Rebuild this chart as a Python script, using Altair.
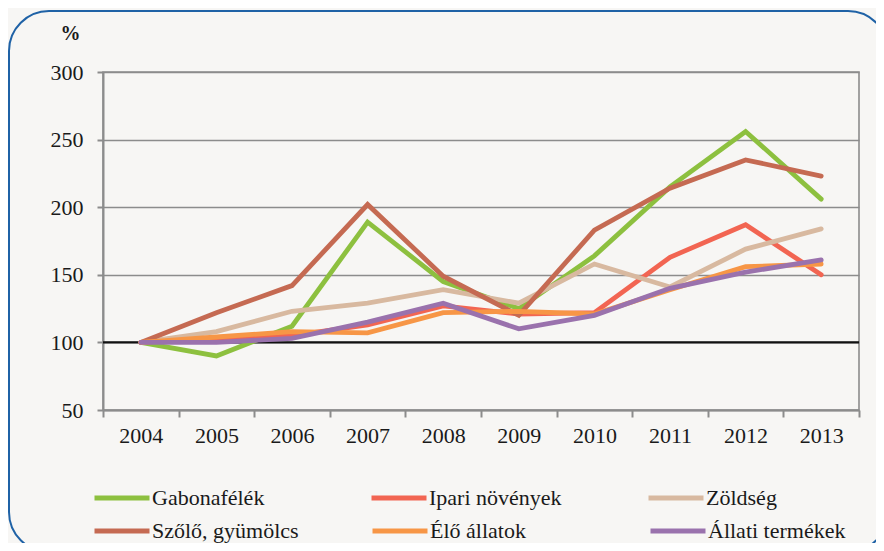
import altair as alt
import pandas as pd

years = ["2004", "2005", "2006", "2007", "2008", "2009", "2010", "2011", "2012", "2013"]
series = ["Gabonafélék", "Ipari növények", "Zöldség", "Szőlő, gyümölcs", "Élő állatok", "Állati termékek"]
gabona = [100, 90, 112, 189, 145, 125, 164, 215, 256, 206]
ipari = [100, 103, 105, 113, 127, 121, 122, 163, 187, 150]
zoldseg = [100, 108, 123, 129, 139, 129, 158, 141, 169, 184]
szolo = [100, 122, 142, 202, 149, 120, 183, 214, 235, 223]
elo = [100, 104, 108, 107, 122, 123, 121, 139, 156, 158]
allati = [100, 100, 103, 115, 129, 110, 120, 140, 152, 161]
colors = ["#8DC03F", "#F26552", "#D8B9A0", "#C56A52", "#F79646", "#9A72AD"]
y_ticks = [50, 100, 150, 200, 250, 300]

values = [gabona, ipari, zoldseg, szolo, elo, allati]
rows = []
for s, vals in zip(series, values):
    for yr, v in zip(years, vals):
        rows.append({"year": yr, "value": v, "series": s})
df = pd.DataFrame(rows)

FONT = "Liberation Serif, DejaVu Serif, serif"
GRID = "#8C8C8C"
TXT = "#1a1a1a"

frame = alt.Chart(alt.Data(values=[{}])).mark_rect(
    fillOpacity=0, stroke="#1F62A6", strokeWidth=2, cornerRadius=40, clip=False
).encode(
    x=alt.value(-94), x2=alt.value(785), y=alt.value(-61), y2=alt.value(480)
)

base_line = alt.Chart(alt.Data(values=[{}])).mark_rule(
    color="#111111", strokeWidth=2.2
).encode(y=alt.datum(100))

x_enc = alt.X(
    "year:N",
    sort=years,
    bandPosition=0.5,
    scale=alt.Scale(type="band", paddingInner=0, paddingOuter=0),
    axis=alt.Axis(
        title=None,
        labelAngle=0,
        tickBand="extent",
        grid=False,
        domainColor=GRID,
        domainWidth=2,
        tickColor=GRID,
        tickWidth=2,
        tickSize=7,
        labelPadding=8,
        labelFontSize=22,
        labelFont=FONT,
        labelColor=TXT,
    ),
)

y_enc = alt.Y(
    "value:Q",
    scale=alt.Scale(domain=[50, 300], nice=False, zero=False),
    axis=alt.Axis(
        values=y_ticks,
        title="%",
        titleAngle=0,
        titleAlign="center",
        titleBaseline="middle",
        titleX=-33,
        titleY=-39,
        titleFont=FONT,
        titleFontSize=20,
        titleFontWeight="bold",
        titleColor=TXT,
        grid=True,
        gridColor=GRID,
        gridWidth=1.6,
        domainColor=GRID,
        domainWidth=2,
        tickColor=GRID,
        tickWidth=2,
        tickSize=6,
        labelPadding=14,
        labelFontSize=22,
        labelFont=FONT,
        labelColor=TXT,
    ),
)


def legend(y, colpad):
    return alt.Legend(
        title=None,
        orient="none",
        direction="horizontal",
        legendX=-11,
        legendY=y,
        columns=3,
        gridAlign="all",
        columnPadding=colpad,
        symbolType="stroke",
        symbolStrokeWidth=5,
        symbolSize=3025,
        labelOffset=0,
        labelFont=FONT,
        labelFontSize=22,
        labelColor=TXT,
        labelLimit=300,
    )


def lines(names, cols, y, colpad):
    return alt.Chart(df).transform_filter(
        alt.FieldOneOfPredicate(field="series", oneOf=names)
    ).mark_line(strokeWidth=4.8, strokeCap="round", strokeJoin="miter").encode(
        x=x_enc,
        y=y_enc,
        color=alt.Color(
            "series:N",
            sort=names,
            scale=alt.Scale(domain=names, range=cols),
            legend=legend(y, colpad),
        ),
    )


lines_a = lines(series[:3], colors[:3], 396, 76)
lines_b = lines(series[3:], colors[3:], 429, 63)

chart = alt.layer(frame, base_line, lines_a, lines_b).resolve_scale(
    color="independent"
).properties(
    width=756,
    height=338,
    background="#F7F6F4",
    padding={"left": 95, "top": 64, "right": 17, "bottom": 133},
    autosize=alt.AutoSizeParams(type="none"),
).configure(font=FONT).configure_view(stroke=GRID, strokeWidth=1.6)

chart.save("out.html", embed_options={"renderer": "svg", "actions": False})
